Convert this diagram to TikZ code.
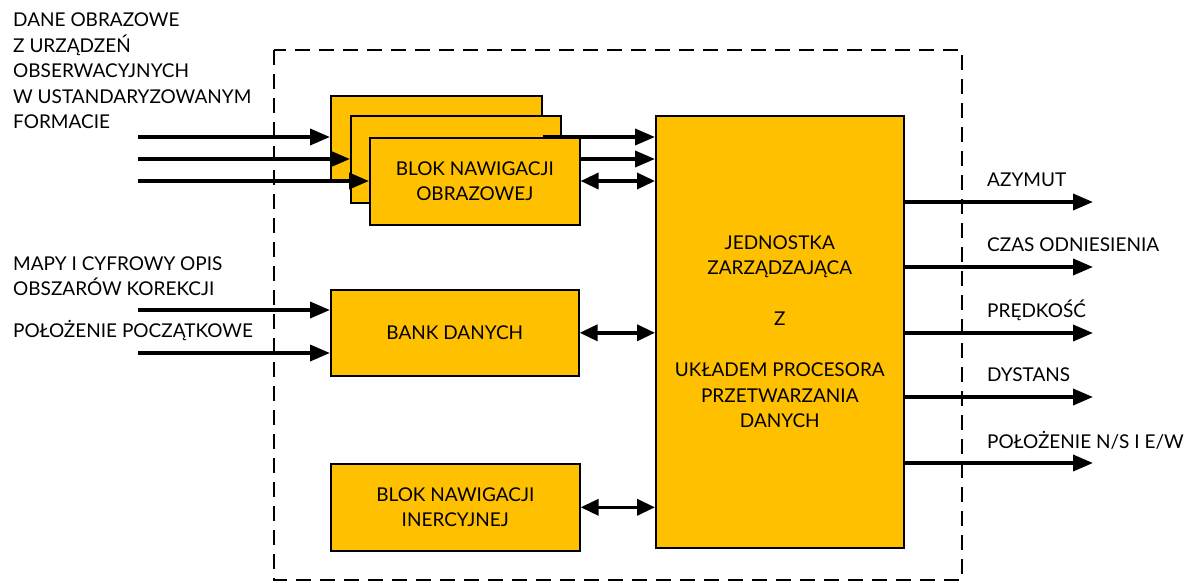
\documentclass[tikz,border=0pt]{standalone}
\usepackage{fontspec}
\setmainfont{Lato}
\usetikzlibrary{arrows.meta}
\definecolor{boxfill}{HTML}{FFC000}
\tikzset{
  blk/.style={draw=black, line width=1.6pt, fill=boxfill, inner sep=0pt, anchor=north west, align=center, font=\fontsize{19}{25.5}\selectfont},
  arr/.style={line width=3.6pt, -{Triangle[length=20pt,width=16pt]}},
  darr/.style={line width=3.6pt, {Triangle[length=18pt,width=16pt]}-{Triangle[length=18pt,width=16pt]}},
  lbl/.style={anchor=west, inner sep=0pt, align=left, font=\fontsize{19}{25.5}\selectfont},
  frame/.style={line width=1.8pt, dash pattern=on 15pt off 9pt}
}
\begin{document}
\begin{tikzpicture}[x=1pt,y=-1pt]
\useasboundingbox (0,0) rectangle (1185,583);
\draw[frame] (274,50) rectangle (962,580);
% stack of boxes
\node[blk, minimum width=211pt, minimum height=84pt] (s1) at (330,95) {};
\node[blk, minimum width=210pt, minimum height=87pt] (s2) at (350,115) {};
\node[blk, minimum width=248pt, minimum height=432pt] (main) at (655,115) {JEDNOSTKA\\ZARZĄDZAJĄCA\\[25.5pt]Z\\[25.5pt]UKŁADEM PROCESORA\\PRZETWARZANIA\\DANYCH};
\coordinate (o1) at (0,137);
\coordinate (o2) at (0,159);
\coordinate (o3) at (0,181);
\draw[arr] (s1.east |- o1) -- (main.west |- o1);
\draw[arr] (s2.east |- o2) -- (main.west |- o2);
\node[blk, minimum width=210pt, minimum height=87pt] (s3) at (369,137) {BLOK NAWIGACJI\\OBRAZOWEJ};
\draw[darr] (s3.east |- o3) -- (main.west |- o3);
% input arrows
\coordinate (i1) at (138,137);
\coordinate (i2) at (138,159);
\coordinate (i3) at (138,181);
\draw[arr] (i1) -- (s1.west |- i1);
\draw[arr] (i2) -- (s2.west |- i2);
\draw[arr] (i3) -- (s3.west |- i3);
% bank
\node[blk, minimum width=248pt, minimum height=86pt] (bank) at (330,289) {BANK DANYCH};
\coordinate (b1) at (138,310);
\coordinate (b2) at (138,353);
\draw[arr] (b1) -- (bank.west |- b1);
\draw[arr] (b2) -- (bank.west |- b2);
\draw[darr] (bank.east) -- (main.west |- bank.east);
% inertial
\node[blk, minimum width=249pt, minimum height=87pt] (iner) at (330,463) {BLOK NAWIGACJI\\INERCYJNEJ};
\draw[darr] (iner.east) -- (main.west |- iner.east);
% left labels
\node[lbl] (t1) at (13,71) {DANE OBRAZOWE\\Z URZĄDZEŃ\\OBSERWACYJNYCH\\W USTANDARYZOWANYM\\FORMACIE};
\node[lbl] (t2) at (13,276) {MAPY I CYFROWY OPIS\\OBSZARÓW KOREKCJI};
\node[lbl] (t3) at (13,331) {POŁOŻENIE POCZĄTKOWE};
% outputs
\coordinate (e1) at (1093,202);
\coordinate (e2) at (1093,267);
\coordinate (e3) at (1093,333);
\coordinate (e4) at (1093,397);
\coordinate (e5) at (1093,463);
\draw[arr] (main.east |- e1) -- (e1);
\draw[arr] (main.east |- e2) -- (e2);
\draw[arr] (main.east |- e3) -- (e3);
\draw[arr] (main.east |- e4) -- (e4);
\draw[arr] (main.east |- e5) -- (e5);
\node[lbl] (l1) at (987,180) {AZYMUT};
\node[lbl] (l2) at (987,245) {CZAS ODNIESIENIA};
\node[lbl] (l3) at (987,310) {PRĘDKOŚĆ};
\node[lbl] (l4) at (987,375) {DYSTANS};
\node[lbl] (l5) at (987,440) {POŁOŻENIE N/S I E/W};
\end{tikzpicture}
\end{document}
